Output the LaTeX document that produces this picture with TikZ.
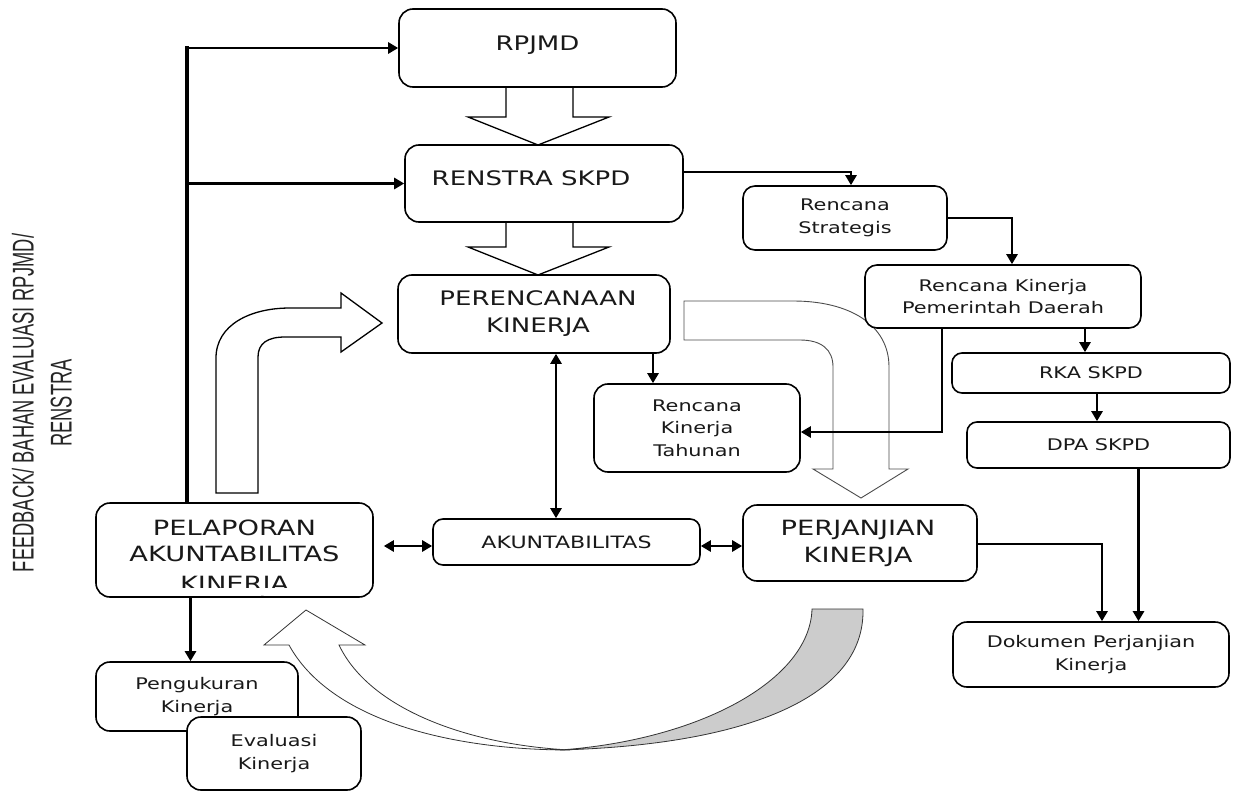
\documentclass[tikz,border=0pt]{standalone}
\usepackage{fontspec}
\setmainfont[FakeStretch=1.3]{DejaVu Sans}
\newfontfamily\condfont[FakeStretch=0.61]{Liberation Sans}
\usetikzlibrary{arrows.meta}
\begin{document}
\begin{tikzpicture}[x=1pt,y=-1pt,
  box/.style={draw=black, line width=1.6pt, rounded corners=14pt, fill=white, align=center, inner sep=0pt, text=black!90},
  big/.style={font=\fontsize{20}{27}\selectfont},
  mid/.style={font=\fontsize{16}{22.5}\selectfont},
  arr/.style={line width=2.8pt, -{Triangle[length=10pt,width=11pt]}},
  darr/.style={line width=2.8pt, {Triangle[length=10pt,width=11pt]}-{Triangle[length=10pt,width=11pt]}},
  blk/.style={draw=black, line width=1.3pt, fill=white, line join=miter},
  thinarrow/.style={draw=black!70, line width=0.9pt, fill=white},
]
\useasboundingbox (0,0) rectangle (1233,794);

% side text
\node[rotate=90, align=center, text=black!85, font=\condfont\fontsize{30}{38}\selectfont] (fbtext) at (42,403)
  {FEEDBACK/ BAHAN EVALUASI RPJMD/\\RENSTRA};

% block arrows
\draw[blk] (506,87) -- (506,117) -- (468,117) -- (538,145) -- (609,117) -- (573,117) -- (573,87);
\draw[blk] (506,222) -- (506,247) -- (468,247) -- (538,275) -- (609,247) -- (573,247) -- (573,222);
\draw[blk] (216,493) -- (216,358) .. controls (216,325) and (250,308) .. (290,308) -- (341,308) -- (341,293)
  -- (382,323) -- (341,352) -- (341,337) -- (285,337) .. controls (268,337) and (258,343) .. (258,357) -- (258,493) -- cycle;
\draw[thinarrow] (684,301) -- (793,301) .. controls (850,301) and (889,325) .. (889,367) -- (889,469) -- (908,469)
  -- (861,498) -- (813,469) -- (833,469) -- (833,367) .. controls (833,350) and (822,340) .. (800,340) -- (684,340) -- cycle;
% bottom curved arrow
\draw[draw=black!80, line width=0.8pt, fill=white] (289,645) .. controls (330,720) and (450,750) .. (570,750)
  .. controls (470,745) and (370,710) .. (339,645) -- (365,645) -- (306,610) -- (264,645) -- cycle;
\draw[draw=black!80, line width=0.8pt, fill=black!20] (812,609) -- (863,609) .. controls (865,700) and (740,745) .. (560,750)
  .. controls (700,740) and (810,680) .. (812,609) -- cycle;

% boxes
\node[box, big, minimum width=277, minimum height=78, text height=15pt, text depth=10pt] (rpjmd) at (537.5,48) {RPJMD};
\node[box, big, minimum width=278, minimum height=77, text height=15pt, text depth=10pt] (renstra) at (544,183.5) {RENSTRA SKPD\hspace*{26pt}};
\node[box, big, minimum width=272, minimum height=78] (perenc) at (534,314) {\hspace*{8pt}PERENCANAAN\\\hspace*{8pt}KINERJA};
\node[box, mid, minimum width=204, minimum height=64, rounded corners=12pt] (rstrat) at (845,218) {Rencana\\Strategis};
\node[box, mid, minimum width=276, minimum height=63, rounded corners=12pt] (rkpd) at (1003,296.5) {Rencana Kinerja\\Pemerintah Daerah};
\node[box, mid, minimum width=278, minimum height=40, rounded corners=10pt] (rka) at (1091,373) {RKA SKPD};
\node[box, mid, minimum width=263, minimum height=46, rounded corners=10pt] (dpa) at (1098.5,445) {DPA SKPD};
\node[box, mid, minimum width=206, minimum height=88] (rkt) at (697,428) {Rencana\\Kinerja\\Tahunan};
\node[box, font=\fontsize{17}{22}\selectfont, minimum width=267, minimum height=46, rounded corners=10pt] (akunt) at (566.5,542) {AKUNTABILITAS};
\node[box, font=\fontsize{21}{27}\selectfont, minimum width=234, minimum height=76] (perj) at (860,543) {PERJANJIAN\hspace*{4pt}\\KINERJA\hspace*{4pt}};
\node[box, font=\fontsize{21}{26}\selectfont, minimum width=277, minimum height=94, text height=86pt, text depth=4pt] (pelap) at (234.5,550)
  {PELAPORAN\\AKUNTABILITAS\\[4pt]KINERJA};
\fill[white] (130,587.5) rectangle (340,595);
\node[box, mid, minimum width=202, minimum height=69] (peng) at (197,696.5) {Pengukuran\\Kinerja};
\node[box, mid, minimum width=174, minimum height=73] (eval) at (274,753.5) {Evaluasi\\Kinerja};
\node[box, mid, minimum width=276, minimum height=65] (dok) at (1091,654.5) {Dokumen Perjanjian\\Kinerja};

% connectors
\coordinate (fbx) at (187,48);
\draw[line width=4.5pt] (fbx |- pelap.north) -- ([yshift=2.25pt]fbx);
\draw[arr] (fbx) -- (rpjmd.west);
\draw[arr] (fbx |- renstra.west) -- (renstra.west);

\coordinate (c1) at ([yshift=11.5pt]renstra.east);
\coordinate (c2) at ([xshift=6pt]rstrat.north);
\draw[arr] (c1) -| (c2);
\coordinate (c3) at ([xshift=9pt]rkpd.north);
\draw[arr] (rstrat.east) -| (c3);
\coordinate (c4) at ([xshift=82pt]rkpd.south);
\draw[arr] (c4) -- (c4 |- rka.north);
\coordinate (c5) at ([xshift=6pt]rka.south);
\draw[arr] (c5) -- (c5 |- dpa.north);
\coordinate (c6) at ([xshift=-61pt]rkpd.south);
\coordinate (c7) at ([yshift=-4pt]rkt.east);
\draw[arr] (c6) |- (c7);
\coordinate (c8) at ([xshift=119pt]perenc.south);
\draw[arr] (c8) -- (c8 |- rkt.north);
\coordinate (c9) at ([xshift=22pt]perenc.south);
\draw[darr] (c9) -- (c9 |- akunt.north);
\coordinate (c10) at ([yshift=-4pt]akunt.west);
\coordinate (c10b) at ([xshift=10pt]pelap.east);
\draw[darr] (c10 -| c10b) -- (c10);
\coordinate (c11) at ([yshift=-4pt]akunt.east);
\draw[darr] (c11) -- (c11 -| perj.west);
\coordinate (c12) at ([xshift=11pt]dok.north);
\draw[arr] ([yshift=-1pt]perj.east) -| (c12);
\coordinate (c13) at ([xshift=40pt]dpa.south);
\draw[arr] (c13) -- (c13 |- dok.north);
\coordinate (c14) at ([xshift=-44pt]pelap.south);
\draw[arr] (c14) -- (c14 |- peng.north);
\end{tikzpicture}
\end{document}
